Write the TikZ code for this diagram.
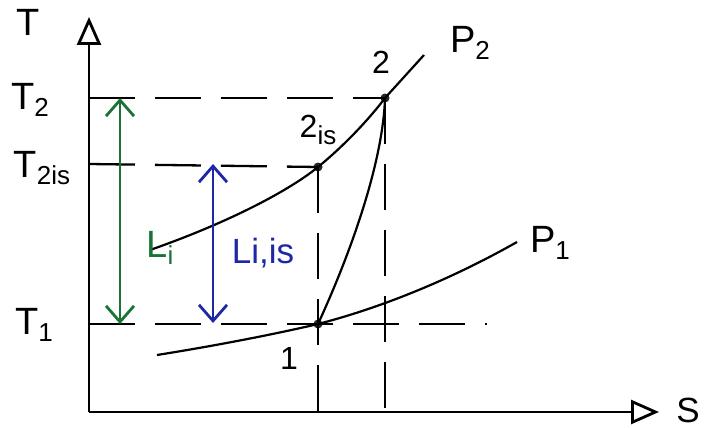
\documentclass[tikz,border=0pt]{standalone}
\usepackage{fontspec}
\setmainfont{Liberation Sans}
\usetikzlibrary{arrows.meta}
\definecolor{wgreen}{RGB}{25,115,55}
\definecolor{wblue}{RGB}{30,40,165}
\newcommand{\low}[1]{\raisebox{-0.2em}{\fontsize{26}{28}\selectfont #1}}

\begin{document}
\begin{tikzpicture}[x=1pt, y=-1pt,
  axis/.style={line width=2.8pt, -{Triangle[open, length=28pt, width=24pt, fill=white]}},
  guide/.style={line width=2.3pt, dash pattern=on 46pt off 20pt},
  isobar/.style={line width=2.2pt},
  state/.style={circle, fill=black!85, inner sep=0pt, minimum size=9pt},
  lab/.style={font=\fontsize{32}{36}\selectfont, inner sep=0pt},
  big/.style={font=\fontsize{38}{42}\selectfont, inner sep=0pt},
  work/.style={line width=2.8pt, {Straight Barb[length=16pt, width=28pt]}-{Straight Barb[length=16pt, width=28pt]}}
]
\useasboundingbox (0,0) rectangle (705,428);
% axes
\coordinate (o) at (89,412);
\coordinate (ytip) at (89,17);
\coordinate (xtip) at (659,412);
\draw[axis] (o) -- (ytip);
\draw[axis] (o) -- (xtip);
\node[big] (tlab) at (28,22) {T};
\node[big, font=\fontsize{35}{38}\selectfont] (slab) at (688,410) {S};
% states
\node[state] (p1) at (318,324) {};
\node[state] (p2is) at (318,167) {};
\node[state] (p2) at (385,98) {};
% helper points on the axes
\coordinate (a2) at (89,98);
\coordinate (a2is) at (89,164);
\coordinate (a1) at (89,324);
\coordinate (e1) at (487,324);
\coordinate (b1) at (318,412);
\coordinate (b2) at (385,412);
\draw[guide] (a2) -- (p2.center);
\draw[guide] (a2is) -- (p2is.center);
\draw[guide] (a1) -- (e1);
\draw[guide] (p2is.center) -- (b1);
\draw[guide] (p2.center) -- (b2);
% isobars
\coordinate (i2s) at (150,250);
\coordinate (i2e) at (424,55);
\coordinate (i1s) at (157,355);
\coordinate (i1e) at (517,242);
\draw[isobar] (i2s) .. controls (230,222) and (290,190) .. (p2is.center)
  .. controls (345,145) and (370,118) .. (p2.center) -- (i2e);
\draw[isobar] (i1s) .. controls (220,345) and (280,333) .. (p1.center)
  .. controls (380,308) and (450,280) .. (i1e);
% compression 1-2
\draw[isobar] (p1.center) .. controls (353,248) and (383,160) .. (p2.center);
% work arrows
\coordinate (g2) at (120,98);
\coordinate (g1) at (120,324);
\coordinate (w2) at (213,164);
\coordinate (w1) at (213,323);
\draw[work, wgreen] (g1) -- (g2);
\draw[work, wblue] (w1) -- (w2);
% labels
\node[big] (t2) at (30,100) {T\low{2}};
\node[big] (t2is) at (42,168) {T\low{2is}};
\node[big] (t1) at (34,325) {T\low{1}};
\node[lab] (l2) at (381,62) {2};
\node[lab] (l2is) at (318,130) {2\low{is}};
\node[lab] (l1) at (289,358) {1};
\node[big] (lp2) at (470,43) {P\low{2}};
\node[big] (lp1) at (550,243) {P\low{1}};
\node[big, wgreen] (li) at (160,248) {L\low{i}};
\node[lab, wblue, font=\fontsize{35}{38}\selectfont] (liis) at (263,253) {Li,is};
\end{tikzpicture}
\end{document}
